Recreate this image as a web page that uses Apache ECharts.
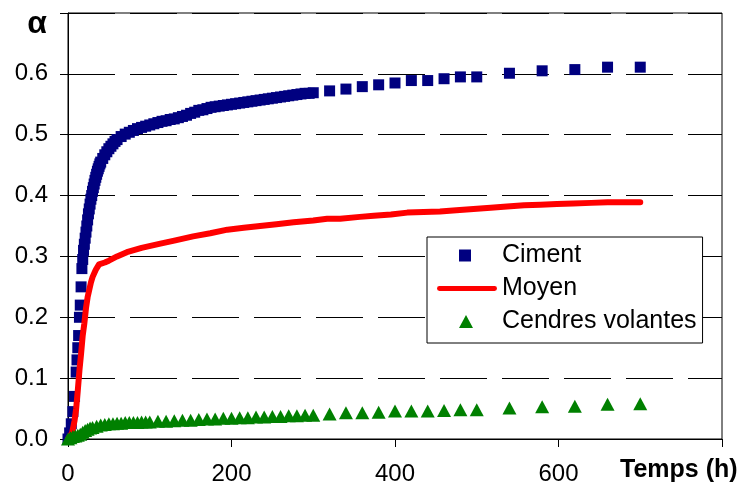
<!DOCTYPE html>
<html>
<head>
<meta charset="utf-8">
<script src="https://cdn.jsdelivr.net/npm/echarts@6/dist/echarts.min.js"></script>
<style>html,body{margin:0;padding:0;background:#fff}#c{width:744px;height:488px}</style>
</head>
<body>
<div id="c"></div>
<script>
// Time (h) and hydration degree values
const cimentT = [0,2,4,6,8,10,11,12,13,14,15,16,17,18,19,20,21,22,23,24,25,26,27,28,29,30,31,32,33,34,35,36,37,38,39,40,42.5,45,47.5,50,52.5,55,57.5,60,65,70,75,80,85,90,95,100,105,110,115,120,125,130,135,140,145,150,155,160,165,170,175,180,185,190,195,200,205,210,215,220,225,230,235,240,245,250,255,260,265,270,275,280,285,290,295,300,320,340,360,380,400,420,440,460,480,500,540,580,620,660,700];
const cimentA = [0.0,0.01,0.025,0.045,0.07,0.11,0.13,0.15,0.17,0.2,0.22,0.25,0.28,0.295,0.31,0.32,0.33,0.34,0.35,0.36,0.37,0.378,0.386,0.394,0.4,0.407,0.413,0.419,0.425,0.43,0.435,0.44,0.444,0.448,0.452,0.455,0.461,0.467,0.472,0.477,0.481,0.485,0.489,0.492,0.497,0.501,0.504,0.507,0.51,0.512,0.514,0.516,0.518,0.52,0.522,0.523,0.525,0.526,0.528,0.53,0.532,0.535,0.537,0.54,0.541,0.543,0.545,0.546,0.547,0.548,0.549,0.55,0.551,0.552,0.553,0.554,0.555,0.556,0.557,0.558,0.559,0.56,0.561,0.562,0.563,0.564,0.565,0.566,0.567,0.568,0.568,0.569,0.572,0.575,0.579,0.582,0.585,0.589,0.589,0.592,0.595,0.595,0.601,0.605,0.607,0.611,0.611];

const moyenT = [0,5,8,10,12,14,16,18,20,22,24,26,28,30,34,38,45,50,60,72,90,113,130,153,174,195,215,235,255,276,300,317,333,357,374,395,415,435,455,475,496,517,537,558,578,598,618,640,660,680,700];
const moyenA = [0.0,0.01,0.03,0.05,0.08,0.113,0.14,0.17,0.19,0.215,0.233,0.245,0.257,0.266,0.278,0.287,0.29,0.293,0.3,0.307,0.314,0.321,0.326,0.333,0.338,0.344,0.347,0.35,0.353,0.356,0.359,0.362,0.362,0.365,0.367,0.369,0.372,0.373,0.374,0.376,0.378,0.38,0.382,0.384,0.385,0.386,0.387,0.388,0.389,0.389,0.389];

const cendresT = [0,3,6,9,12,15,18,21,24,27,30,35,40,45,50,55,60,65,70,75,80,85,90,95,100,110,120,130,140,150,160,170,180,190,200,210,220,230,240,250,260,270,280,290,300,320,340,360,380,400,420,440,460,480,500,540,580,620,660,700];
const cendresA = [0.0,0.002,0.004,0.005,0.006,0.008,0.011,0.014,0.016,0.018,0.019,0.021,0.023,0.024,0.025,0.025,0.026,0.026,0.027,0.027,0.027,0.027,0.028,0.028,0.028,0.029,0.029,0.03,0.031,0.031,0.032,0.033,0.033,0.034,0.034,0.035,0.035,0.036,0.036,0.037,0.037,0.038,0.038,0.039,0.039,0.041,0.043,0.043,0.044,0.046,0.046,0.046,0.047,0.048,0.048,0.051,0.053,0.054,0.057,0.058];

const seriesNames = ['Ciment','Moyen','Cendres volantes'];
const xTicksHidden = [800];
const yTicksHidden = [0.7];
const xTitle = 'Temps (h)';
const yTitle = 'α';

const pairs = (t, a) => t.map((v, i) => [v, a[i]]);
const FONT = '"Liberation Sans", Arial, sans-serif';

// legend icons (60 x 13 frame so the glyph keeps its own size)
const iconSquare = 'path://M0,0M60,13M22,0.5h12v12h-12z';
const iconLine = 'path://M0,0M60,13M2,4h56a2.5,2.5 0 0 1 0,5h-56a2.5,2.5 0 0 1 0,-5z';
const iconTri = 'path://M0,0M60,13M22,13L29,0L36,13z';

const chart = echarts.init(document.getElementById('c'), null, {renderer: 'canvas'});
chart.setOption({
  animation: false,
  backgroundColor: '#fff',
  grid: {left: 68, right: 22, top: 13, bottom: 49, show: true, borderColor: '#000', borderWidth: 1, containLabel: false},
  xAxis: {
    type: 'value', min: 0, max: 800, interval: 200,
    axisLine: {show: true, lineStyle: {color: '#000', width: 1}},
    axisTick: {show: true, inside: false, length: 8, lineStyle: {color: '#000'}},
    axisLabel: {color: '#000', fontSize: 24, fontFamily: FONT, margin: 23,
      formatter: v => xTicksHidden.includes(v) ? '' : String(v)},
    splitLine: {show: false}
  },
  yAxis: {
    type: 'value', min: 0, max: 0.7, interval: 0.1,
    axisLine: {show: true, lineStyle: {color: '#000', width: 1}},
    axisTick: {show: true, inside: false, length: 8, lineStyle: {color: '#000'}},
    axisLabel: {color: '#000', fontSize: 24, fontFamily: FONT, margin: 20,
      formatter: v => yTicksHidden.some(h => Math.abs(h - v) < 1e-9) ? '' : v.toFixed(1)},
    splitLine: {show: true, lineStyle: {color: '#000', width: 1, type: [47, 15]}}
  },
  legend: {
    orient: 'vertical', left: 427, top: 237,
    backgroundColor: '#fff', borderColor: '#000', borderWidth: 1,
    padding: [6, 6, 9, 10], itemGap: 8, itemWidth: 60, itemHeight: 13,
    textStyle: {color: '#000', fontSize: 25, fontFamily: FONT, lineHeight: 24},
    data: [
      {name: seriesNames[0], icon: iconSquare},
      {name: seriesNames[1], icon: iconLine},
      {name: seriesNames[2], icon: iconTri}
    ]
  },
  graphic: [
    {type: 'text', left: 620, top: 458, style: {text: xTitle, font: 'bold 25px ' + FONT, fill: '#000'}},
    {type: 'text', x: 37, y: 24, style: {text: yTitle, font: 'bold 32px ' + FONT, fill: '#000', align: 'center', verticalAlign: 'middle'}}
  ],
  series: [
    {name: seriesNames[0], type: 'scatter', symbol: 'rect', symbolSize: 11, itemStyle: {color: '#000080', opacity: 1}, data: pairs(cimentT, cimentA), z: 2},
    {name: seriesNames[1], type: 'line', symbol: 'none', showSymbol: false, lineStyle: {color: '#ff0000', width: 6, cap: 'round', join: 'round'}, itemStyle: {color: '#ff0000'}, data: pairs(moyenT, moyenA), z: 3},
    {name: seriesNames[2], type: 'scatter', symbol: 'triangle', symbolSize: [14, 13], itemStyle: {color: '#008000', opacity: 1}, data: pairs(cendresT, cendresA), z: 4}
  ]
});
</script>
</body>
</html>
